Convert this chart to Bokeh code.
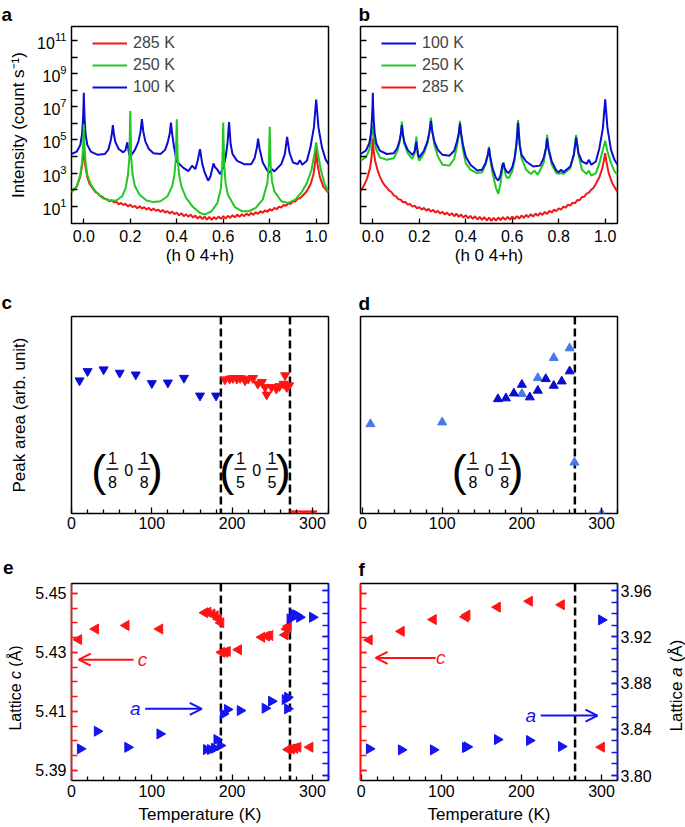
import math
from bokeh.plotting import figure
from bokeh.models import (Range1d, LinearAxis, FixedTicker, PrintfTickFormatter, Label, Span,
                          Arrow, OpenHead, Legend, LegendItem, BoxAnnotation, Spacer)
from bokeh.layouts import row, column
from bokeh.embed import file_html
from bokeh.resources import INLINE

FONT = "Liberation Sans"
RED = "#f01818"
GREEN = "#22c822"
BLUE = "#0c0cd6"
RED2 = "#ff1414"
BLUE2 = "#1414f0"
DBLUE = "#0a0ad0"
LBLUE = "#4a78ec"

# ---------------- data: panel a (log10 intensity) ----------------
a_h_100 = [-0.053, -0.03, -0.015, -0.008, -0.004, -0.0015, 0.0, 0.0015, 0.004, 0.008, 0.015, 0.03, 0.06, 0.09,
           0.105, 0.115, 0.121, 0.125, 0.129, 0.135, 0.15, 0.17, 0.18, 0.185, 0.1875, 0.19, 0.195, 0.2, 0.205,
           0.22, 0.235, 0.244, 0.25, 0.256, 0.265, 0.28, 0.3, 0.33, 0.35, 0.362, 0.37, 0.375, 0.38, 0.388,
           0.4, 0.43, 0.45, 0.466, 0.48, 0.49, 0.5, 0.51, 0.52, 0.535, 0.545, 0.558, 0.565, 0.573, 0.587,
           0.6, 0.61, 0.618, 0.625, 0.632, 0.64, 0.66, 0.69, 0.72, 0.735, 0.745, 0.75, 0.756, 0.77, 0.79,
           0.8, 0.81, 0.82, 0.85, 0.865, 0.875, 0.885, 0.9, 0.92, 0.93, 0.94, 0.96, 0.975, 0.99, 1.0, 1.01,
           1.025, 1.04, 1.053]
a_log_100 = [4.15, 4.3, 4.7, 5.3, 6.1, 7.0, 7.85, 7.0, 6.1, 5.3, 4.7, 4.3, 4.1, 4.15,
             4.4, 4.9, 5.4, 5.9, 5.4, 4.9, 4.45, 4.25, 4.4, 4.75, 4.85, 4.6, 4.15, 3.95, 4.1,
             4.4, 4.9, 5.5, 6.25, 5.5, 4.9, 4.45, 4.2, 4.15, 4.4, 4.9, 5.4, 6.05, 5.4, 4.6,
             3.7, 3.3, 3.12, 3.44, 3.24, 3.74, 4.44, 3.54, 3.04, 2.54, 2.8, 3.58, 3.35, 3.24, 2.94,
             3.34, 3.94, 4.74, 6.08, 4.74, 4.14, 3.74, 3.54, 3.54, 3.9, 4.54, 5.08, 4.5, 3.64, 3.14,
             3.04, 3.24, 3.1, 3.54, 4.14, 5.18, 4.24, 3.64, 3.54, 3.78, 3.5, 3.74, 4.54, 5.74, 7.44, 5.74,
             4.54, 3.84, 3.54]

a_h_250 = [-0.053, -0.03, -0.015, -0.007, -0.003, 0.0, 0.003, 0.007, 0.015, 0.03, 0.05, 0.08, 0.11, 0.14,
           0.165, 0.18, 0.19, 0.196, 0.2, 0.204, 0.21, 0.22, 0.24, 0.27, 0.3, 0.33, 0.36, 0.38, 0.39, 0.396,
           0.4, 0.404, 0.41, 0.42, 0.44, 0.47, 0.5, 0.52, 0.55, 0.575, 0.59, 0.596, 0.6, 0.604, 0.61, 0.62,
           0.65, 0.68, 0.71, 0.74, 0.77, 0.79, 0.796, 0.8, 0.804, 0.81, 0.82, 0.85, 0.88, 0.91, 0.94, 0.96,
           0.98, 0.993, 1.0, 1.007, 1.02, 1.035, 1.053]
a_log_250 = [1.85, 2.2, 2.9, 3.7, 4.6, 5.95, 4.6, 3.7, 2.9, 2.3, 1.9, 1.5, 1.35, 1.35,
             1.6, 2.1, 2.9, 3.9, 6.75, 3.9, 2.9, 2.2, 1.7, 1.35, 1.25, 1.3, 1.6, 2.2, 2.9, 3.9,
             6.25, 3.9, 2.9, 2.2, 1.5, 0.95, 0.6, 0.5, 0.7, 1.2, 2.1, 3.5, 6.05, 3.5, 2.4, 1.7,
             0.95, 0.7, 0.7, 0.9, 1.4, 2.4, 3.5, 5.8, 3.5, 2.5, 1.9, 1.3, 1.2, 1.4, 1.9, 2.4,
             3.2, 4.2, 4.85, 4.2, 3.2, 2.4, 1.85]

a_h_285 = [-0.053, -0.03, -0.015, -0.006, 0.0, 0.006, 0.015, 0.025,
           0.04, 0.05, 0.06, 0.07, 0.08, 0.09, 0.10, 0.11, 0.12, 0.13, 0.14, 0.15, 0.16, 0.17, 0.18, 0.19,
           0.20, 0.21, 0.22, 0.23, 0.24, 0.25, 0.26, 0.27, 0.28, 0.29, 0.30, 0.31, 0.32, 0.33, 0.34, 0.35,
           0.36, 0.37, 0.38, 0.39, 0.40, 0.41, 0.42, 0.43, 0.44, 0.45, 0.46, 0.47, 0.48, 0.49, 0.50, 0.51,
           0.52, 0.53, 0.54, 0.55, 0.56, 0.57, 0.58, 0.59, 0.60, 0.61, 0.62, 0.63, 0.64, 0.65, 0.66, 0.67,
           0.68, 0.69, 0.70, 0.71, 0.72, 0.73, 0.74, 0.75, 0.76, 0.77, 0.78, 0.79, 0.80, 0.81, 0.82, 0.83,
           0.84, 0.85, 0.86, 0.87, 0.88, 0.89, 0.90, 0.91, 0.92, 0.93, 0.94, 0.95, 0.96,
           0.975, 0.988, 0.995, 1.0, 1.005, 1.015, 1.03, 1.053]
a_log_285 = [1.85, 2.2, 2.8, 3.6, 4.5, 3.5, 2.75, 2.35,
             2.05, 1.85, 1.78, 1.62, 1.58, 1.45, 1.42, 1.30, 1.36, 1.22, 1.28, 1.12, 1.20, 1.08, 1.15, 0.98,
             1.10, 0.95, 1.02, 0.88, 1.00, 0.86, 0.95, 0.80, 0.90, 0.74, 0.86, 0.72, 0.80, 0.66, 0.78, 0.62,
             0.70, 0.56, 0.68, 0.52, 0.62, 0.45, 0.58, 0.40, 0.52, 0.36, 0.50, 0.32, 0.44, 0.25, 0.40, 0.22,
             0.38, 0.20, 0.36, 0.18, 0.35, 0.22, 0.38, 0.24, 0.40, 0.26, 0.42, 0.30, 0.46, 0.33, 0.50, 0.36,
             0.52, 0.40, 0.56, 0.44, 0.60, 0.48, 0.64, 0.54, 0.70, 0.60, 0.76, 0.66, 0.82, 0.74, 0.90, 0.82,
             0.98, 0.92, 1.08, 1.02, 1.18, 1.14, 1.30, 1.28, 1.45, 1.48, 1.62, 1.75, 1.92,
             2.3, 2.9, 3.6, 4.4, 3.6, 2.8, 2.2, 1.8]

# ---------------- data: panel b (log10 intensity) ----------------
b_h_100 = [-0.053, -0.03, -0.015, -0.008, -0.004, -0.0015, 0.0, 0.0015, 0.004, 0.008, 0.015, 0.03, 0.06, 0.09,
           0.105, 0.115, 0.121, 0.125, 0.129, 0.135, 0.15, 0.17, 0.18, 0.185, 0.1875, 0.19, 0.195, 0.2, 0.205,
           0.22, 0.235, 0.244, 0.25, 0.256, 0.265, 0.28, 0.3, 0.33, 0.35, 0.362, 0.37, 0.375, 0.38, 0.388,
           0.4, 0.42, 0.45, 0.47, 0.485, 0.495, 0.5, 0.505, 0.515, 0.53, 0.54, 0.55, 0.558, 0.562, 0.568,
           0.575, 0.585, 0.6, 0.61, 0.618, 0.625, 0.632, 0.64, 0.66, 0.69, 0.72, 0.735, 0.745, 0.75, 0.756,
           0.77, 0.79, 0.8, 0.81, 0.82, 0.85, 0.865, 0.875, 0.885, 0.9, 0.92, 0.93, 0.94, 0.96, 0.975, 0.99,
           1.0, 1.01, 1.025, 1.04, 1.053]
b_log_100 = [4.15, 4.35, 4.8, 5.4, 6.2, 7.0, 7.85, 7.0, 6.2, 5.4, 4.8, 4.35, 4.15, 4.2,
             4.5, 4.95, 5.4, 5.9, 5.4, 4.9, 4.4, 4.1, 4.3, 4.7, 4.9, 4.6, 4.1, 3.95, 4.05,
             4.35, 4.9, 5.5, 6.15, 5.5, 4.9, 4.4, 4.1, 4.05, 4.35, 4.9, 5.4, 6.0, 5.4, 4.7,
             4.0, 3.5, 3.15, 3.2, 3.6, 4.1, 4.5, 4.0, 3.3, 2.7, 2.55, 2.9, 3.5, 3.6, 3.3,
             3.1, 3.0, 3.35, 3.9, 4.7, 6.05, 4.7, 4.1, 3.7, 3.4, 3.45, 3.9, 4.5, 5.1, 4.5,
             3.7, 3.15, 3.05, 3.2, 3.05, 3.4, 4.1, 5.15, 4.2, 3.7, 3.55, 3.8, 3.5, 3.7, 4.5, 5.7,
             7.45, 5.7, 4.4, 3.8, 3.5]

b_h_250 = [-0.053, -0.03, -0.015, -0.008, -0.003, 0.0, 0.003, 0.008, 0.015, 0.03, 0.06, 0.09,
           0.105, 0.115, 0.121, 0.125, 0.129, 0.135, 0.15, 0.17, 0.18, 0.185, 0.1875, 0.19, 0.195, 0.2, 0.205,
           0.22, 0.235, 0.244, 0.25, 0.256, 0.265, 0.28, 0.3, 0.33, 0.35, 0.362, 0.37, 0.375, 0.38, 0.388,
           0.4, 0.42, 0.45, 0.47, 0.485, 0.495, 0.5, 0.505, 0.515, 0.53, 0.54, 0.55, 0.558, 0.562, 0.568,
           0.575, 0.585, 0.6, 0.61, 0.618, 0.625, 0.632, 0.64, 0.66, 0.68, 0.695, 0.71, 0.735, 0.745, 0.75,
           0.756, 0.77, 0.79, 0.8, 0.81, 0.82, 0.85, 0.865, 0.875, 0.885, 0.9, 0.92, 0.93, 0.94, 0.96, 0.975,
           0.99, 1.0, 1.01, 1.025, 1.04, 1.053]
b_log_250 = [3.75, 3.95, 4.4, 4.9, 5.5, 5.9, 5.5, 4.9, 4.4, 3.95, 3.8, 3.9,
             4.3, 4.85, 5.4, 6.1, 5.4, 4.8, 4.2, 3.85, 4.2, 4.8, 5.2, 4.6, 3.9, 3.75, 3.85,
             4.2, 4.8, 5.5, 6.35, 5.5, 4.7, 4.0, 3.5, 3.45, 3.85, 4.6, 5.3, 6.15, 5.3, 4.4,
             3.6, 3.2, 3.0, 3.05, 3.5, 4.1, 4.6, 3.9, 3.0, 2.1, 1.75, 2.4, 3.4, 3.65, 3.1,
             2.75, 2.7, 3.1, 3.8, 4.8, 6.2, 4.8, 3.9, 3.2, 2.95, 3.15, 2.9, 3.6, 4.5, 5.3,
             4.4, 3.5, 3.0, 2.95, 3.0, 2.95, 3.3, 4.1, 5.3, 4.1, 3.2, 2.95, 3.15, 2.85, 3.0, 3.6,
             4.4, 4.95, 4.3, 3.6, 3.1, 2.9]

b_h_285 = [-0.053, -0.04, -0.025, -0.012, -0.005, 0.0, 0.004, 0.01, 0.02, 0.03,
           0.04, 0.05, 0.06, 0.07, 0.08, 0.09, 0.10, 0.11, 0.12, 0.13, 0.14, 0.15, 0.16, 0.17, 0.18, 0.19,
           0.20, 0.21, 0.22, 0.23, 0.24, 0.25, 0.26, 0.27, 0.28, 0.29, 0.30, 0.31, 0.32, 0.33, 0.34, 0.35,
           0.36, 0.37, 0.38, 0.39, 0.40, 0.41, 0.42, 0.43, 0.44, 0.45, 0.46, 0.47, 0.48, 0.49, 0.50, 0.51,
           0.52, 0.53, 0.54, 0.55, 0.56, 0.57, 0.58, 0.59, 0.60, 0.61, 0.62, 0.63, 0.64, 0.65, 0.66, 0.67,
           0.68, 0.69, 0.70, 0.71, 0.72, 0.73, 0.74, 0.75, 0.76, 0.77, 0.78, 0.79, 0.80, 0.81, 0.82, 0.83,
           0.84, 0.85, 0.86, 0.87, 0.88, 0.89, 0.90, 0.91, 0.92, 0.93, 0.94, 0.95, 0.96,
           0.975, 0.988, 0.995, 1.0, 1.005, 1.015, 1.03, 1.053]
b_log_285 = [1.9, 2.2, 2.65, 3.3, 4.0, 5.1, 4.3, 3.75, 3.2, 2.8,
             2.50, 2.28, 2.12, 1.95, 1.86, 1.66, 1.60, 1.42, 1.40, 1.24, 1.26, 1.10, 1.14, 0.98, 1.04, 0.88,
             0.95, 0.80, 0.90, 0.74, 0.84, 0.68, 0.78, 0.62, 0.72, 0.56, 0.66, 0.50, 0.62, 0.45, 0.58, 0.40,
             0.55, 0.36, 0.50, 0.32, 0.46, 0.28, 0.42, 0.24, 0.40, 0.20, 0.36, 0.18, 0.34, 0.14, 0.32, 0.12,
             0.30, 0.14, 0.32, 0.16, 0.34, 0.18, 0.36, 0.20, 0.38, 0.22, 0.40, 0.26, 0.44, 0.30, 0.48, 0.34,
             0.52, 0.38, 0.56, 0.42, 0.60, 0.48, 0.66, 0.54, 0.72, 0.62, 0.80, 0.70, 0.88, 0.80, 0.98, 0.92,
             1.10, 1.04, 1.22, 1.18, 1.38, 1.36, 1.56, 1.58, 1.76, 1.82, 2.00, 2.12, 2.36,
             2.75, 3.3, 3.8, 4.2, 3.7, 3.0, 2.4, 1.85]

h_ticks = [0.0, 0.2, 0.4, 0.6, 0.8, 1.0]
log_major = [1e1, 1e3, 1e5, 1e7, 1e9, 1e11]
log_minor = [1e2, 1e4, 1e6, 1e8, 1e10]

# ---------------- data: panel c (peak area, arb. unit) ----------------
c_T_18 = [10, 20, 40, 60, 80, 100, 120, 140, 160, 180]
c_v_18 = [0.675, 0.722, 0.731, 0.714, 0.705, 0.661, 0.664, 0.688, 0.598, 0.598]
c_T_15 = [191, 197, 201, 206, 210, 216, 220, 226, 232, 237, 241, 243, 249, 255, 259, 264, 266, 268, 271,
          278, 289, 300]
c_v_15 = [0.680, 0.684, 0.687, 0.684, 0.687, 0.675, 0.684, 0.687, 0.658, 0.667, 0.641, 0.603, 0.641, 0.633,
          0.646, 0.658, 0.701, 0.641, 0.650, 0.0, 0.0, 0.0]
c_transitions = [186, 272]

# ---------------- data: panel d ----------------
d_T_dark = [170, 180, 190, 200, 210, 220, 230, 240, 250, 260]
d_v_dark = [0.581, 0.585, 0.610, 0.654, 0.590, 0.624, 0.683, 0.649, 0.671, 0.722]
d_T_light = [10, 100, 200, 220, 240, 260, 266, 300]
d_v_light = [0.454, 0.463, 0.607, 0.688, 0.790, 0.839, 0.259, 0.0]
d_transitions = [266.5]

# ---------------- data: panel e (lattice constants, Angstrom) ----------------
e_T_c = [9, 30, 68, 110, 166, 170, 175, 179, 183, 186, 187, 191, 194, 208, 237, 243, 247, 266, 268, 270,
         270, 274, 278, 282, 297]
e_c = [5.4343, 5.4379, 5.4391, 5.4379, 5.4434, 5.4436, 5.4430, 5.4424, 5.4413, 5.4400, 5.4300, 5.4300,
       5.4303, 5.4309, 5.4351, 5.4355, 5.4357, 5.4359, 5.4379, 5.4388, 5.3971, 5.3973, 5.3975, 5.3979,
       5.3979]
e_T_a = [11, 32, 70, 110, 168, 173, 178, 181, 185, 189, 194, 210, 241, 249, 266, 269, 269, 272, 276, 280,
         284, 300]
e_a = [3.8231, 3.8383, 3.8244, 3.8360, 3.8225, 3.8225, 3.8236, 3.8311, 3.8259, 3.8533, 3.8571, 3.8562,
       3.8582, 3.8643, 3.8657, 3.8677, 3.8577, 3.9355, 3.9398, 3.9389, 3.9369, 3.9369]
e_transitions = [186, 272]

# ---------------- data: panel f ----------------
f_T_c = [10, 50, 90, 130, 132, 170, 210, 250, 300]
f_c = [5.4342, 5.4371, 5.4411, 5.4420, 5.4426, 5.4453, 5.4473, 5.4461, 5.3979]
f_T_a = [10, 50, 90, 130, 132, 170, 210, 250, 300]
f_a = [3.8231, 3.8222, 3.8222, 3.8242, 3.8248, 3.8311, 3.8303, 3.8251, 3.9346]
f_transitions = [267]

c_major = [5.39, 5.41, 5.43, 5.45]
c_minor = [round(5.385 + 0.005 * i, 3) for i in range(15)]
a_major = [3.80, 3.84, 3.88, 3.92, 3.96]
a_minor = [round(3.79 + 0.01 * i, 2) for i in range(19)]
T_major = [0, 100, 200, 300]
T_minor = [20, 40, 60, 80, 120, 140, 160, 180, 220, 240, 260, 280, 320]


def style_axis(ax, tick_in=6, minor_in=4, color="black", label_size="16px"):
    ax.axis_line_color = None
    ax.major_tick_in = tick_in
    ax.major_tick_out = 0
    ax.minor_tick_in = minor_in
    ax.minor_tick_out = 0
    ax.major_tick_line_color = color
    ax.minor_tick_line_color = color
    ax.major_tick_line_width = 1.3
    ax.minor_tick_line_width = 1.3
    ax.major_label_text_font = FONT
    ax.major_label_text_font_size = label_size
    ax.major_label_text_color = "black"
    ax.axis_label_text_font = FONT
    ax.axis_label_text_font_size = "17px"
    ax.axis_label_text_font_style = "normal"
    ax.axis_label_text_color = "black"


def set_letter(p, letter, offset, standoff):
    p.title.text = letter
    p.title.align = "left"
    p.title.offset = offset
    p.title.standoff = standoff
    p.title.vertical_align = "bottom"
    p.title.text_font = FONT
    p.title.text_font_size = "19px"
    p.title.text_font_style = "bold"
    p.title.text_color = "black"


def make_fig(letter, letter_offset, letter_standoff, width, height, bl, br, bt, bb, xr, yr, log=False):
    p = figure(width=width, height=height, min_border_left=bl, min_border_right=br,
               min_border_top=bt, min_border_bottom=bb, x_range=xr, y_range=yr,
               y_axis_type="log" if log else "linear", output_backend="svg",
               toolbar_location=None, tools="", title=letter)
    if letter:
        set_letter(p, letter, letter_offset, letter_standoff)
    p.grid.visible = False
    p.outline_line_color = "black"
    p.outline_line_width = 1.5
    p.outline_line_alpha = 1.0
    p.background_fill_color = "white"
    p.border_fill_color = "white"
    for ax in p.axis:
        style_axis(ax)
    return p


def hide_labels(ax):
    ax.formatter = PrintfTickFormatter(format="")
    ax.major_label_standoff = 0


def holder(width, height, border_left):
    # narrow helper canvas (no x axis, bare left axis) whose axis title carries a text piece
    p = figure(width=width, height=height, min_border_left=border_left, min_border_right=0,
               min_border_top=0, min_border_bottom=0, x_range=Range1d(0, 1), y_range=Range1d(0, 1),
               output_backend="svg", toolbar_location=None, tools="", title=None, x_axis_location=None)
    p.grid.visible = False
    p.outline_line_color = None
    p.background_fill_color = "white"
    p.border_fill_color = "white"
    ax = p.yaxis[0]
    ax.ticker = FixedTicker(ticks=[0.5], minor_ticks=[])
    hide_labels(ax)
    ax.major_tick_in = 0
    ax.major_tick_out = 0
    ax.minor_tick_in = 0
    ax.minor_tick_out = 0
    ax.axis_line_color = None
    return p


def text_piece(text, width, height, size, style="normal"):
    p = holder(width, height, width - 1)
    ax = p.yaxis[0]
    ax.axis_label = text
    ax.axis_label_standoff = 0
    ax.axis_label_text_font = FONT
    ax.axis_label_text_font_size = size
    ax.axis_label_text_font_style = style
    ax.axis_label_text_color = "black"
    return p


def letter_piece(letter, width, height, standoff):
    # upright bold panel letter carried by a horizontal axis title
    p = holder(width, height, width - 1)
    ax = p.yaxis[0]
    ax.axis_label = letter
    ax.axis_label_standoff = standoff
    ax.axis_label_text_font = FONT
    ax.axis_label_text_font_size = "19px"
    ax.axis_label_text_font_style = "bold"
    ax.axis_label_text_color = "black"
    try:
        ax.axis_label_orientation = "horizontal"
    except Exception:
        pass
    return p


def lab(p, x, y, text, size="16px", color="black", style="normal", align="center",
        baseline="middle", yr="default"):
    p.add_layout(Label(x=x, y=y, text=text, text_font=FONT, text_font_size=size, text_color=color,
                       text_font_style=style, text_align=align, text_baseline=baseline,
                       y_range_name=yr))


def dashed(p, locs):
    for t in locs:
        p.add_layout(Span(location=t, dimension="height", line_color="black", line_width=2.5,
                          line_dash="8 4", level="underlay"))


def frac_group(p, xs, dx_bar, num, den):
    # xs: left paren, frac1, zero, frac2, right paren (data x); y in peak-area units
    y_num, y_den, y_zero, y_bar, y_par = 0.284, 0.162, 0.223, 0.226, 0.218
    lab(p, xs[0], y_par, "(", size="45px")
    lab(p, xs[4], y_par, ")", size="45px")
    lab(p, xs[2], y_zero, "0", size="16px")
    for xf in (xs[1], xs[3]):
        lab(p, xf, y_num, num, size="16px")
        lab(p, xf, y_den, den, size="16px")
        p.add_layout(BoxAnnotation(left=xf - dx_bar, right=xf + dx_bar, bottom=y_bar - 0.0035,
                                   top=y_bar + 0.0035, fill_color="black", fill_alpha=1.0,
                                   line_color=None))


def legend(p, items, loc):
    leg = Legend(items=[LegendItem(label=l, renderers=[r]) for l, r in items], location=loc,
                 border_line_color=None, background_fill_alpha=0.0, label_text_font=FONT,
                 label_text_font_size="16px", glyph_width=35, glyph_height=20, label_height=20,
                 label_standoff=6, spacing=2, padding=5, margin=0)
    p.add_layout(leg)


def to_I(vals):
    return [10 ** v for v in vals]


def color_axis(ax, color):
    ax.axis_line_color = color
    ax.axis_line_width = 1.5
    ax.major_tick_line_color = color
    ax.minor_tick_line_color = color
    ax.minor_tick_in = 6


# ================= panel a =================
pa = make_fig("a", -70, 3, 345, 270, 71, 17, 25, 47, Range1d(-0.053, 1.053),
              Range1d(10 ** -0.04, 10 ** 11.84), log=True)
ra_285 = pa.line(a_h_285, to_I(a_log_285), line_color=RED, line_width=2)
ra_100 = pa.line(a_h_100, to_I(a_log_100), line_color=BLUE, line_width=2)
ra_250 = pa.line(a_h_250, to_I(a_log_250), line_color=GREEN, line_width=2)
pa.xaxis.ticker = FixedTicker(ticks=h_ticks, minor_ticks=[])
pa.xaxis.formatter = PrintfTickFormatter(format="%.1f")
pa.xaxis.axis_label = "(h 0 4+h)"
pa.xaxis.major_label_standoff = 6
pa.xaxis.axis_label_standoff = 1
pa.xaxis.major_tick_in = 5
pa.yaxis.ticker = FixedTicker(ticks=log_major, minor_ticks=log_minor)
pa.yaxis.minor_tick_in = 6
pa.yaxis.axis_label = "Intensity (count s\u207b\u00b9)"
pa.yaxis.major_label_standoff = 5
pa.yaxis.axis_label_standoff = 6
legend(pa, [("285 K", ra_285), ("250 K", ra_250), ("100 K", ra_100)], (21, 126))

# ================= panel b =================
pb = make_fig("b", -2, 3, 340, 270, 15, 68, 25, 47, Range1d(-0.053, 1.053),
              Range1d(10 ** -0.04, 10 ** 11.84), log=True)
rb_285 = pb.line(b_h_285, to_I(b_log_285), line_color=RED, line_width=2)
rb_250 = pb.line(b_h_250, to_I(b_log_250), line_color=GREEN, line_width=2)
rb_100 = pb.line(b_h_100, to_I(b_log_100), line_color=BLUE, line_width=2)
pb.xaxis.ticker = FixedTicker(ticks=h_ticks, minor_ticks=[])
pb.xaxis.formatter = PrintfTickFormatter(format="%.1f")
pb.xaxis.axis_label = "(h 0 4+h)"
pb.xaxis.major_label_standoff = 6
pb.xaxis.axis_label_standoff = 1
pb.xaxis.major_tick_in = 5
pb.yaxis.ticker = FixedTicker(ticks=log_major, minor_ticks=log_minor)
pb.yaxis.minor_tick_in = 6
hide_labels(pb.yaxis[0])
legend(pb, [("100 K", rb_100), ("250 K", rb_250), ("285 K", rb_285)], (21, 126))

# ================= panel c =================
pc = make_fig("c", -70, 7, 345, 273, 71, 17, 46, 30, Range1d(0, 320), Range1d(0, 1))
dashed(pc, c_transitions)
pc.scatter(c_T_18, c_v_18, marker="inverted_triangle", size=9, fill_color=BLUE, line_color=BLUE)
pc.scatter(c_T_15, c_v_15, marker="inverted_triangle", size=9, fill_color=RED2, line_color=RED2)
pc.xaxis.ticker = FixedTicker(ticks=T_major, minor_ticks=T_minor)
pc.xaxis.major_label_standoff = 3
pc.yaxis.ticker = FixedTicker(ticks=[0.5], minor_ticks=[])
pc.yaxis.major_tick_in = 0
hide_labels(pc.yaxis[0])
pc.yaxis.axis_label = "Peak area (arb. unit)"
pc.yaxis.axis_label_standoff = 43
frac_group(pc, [33.9, 50.9, 71.1, 90.4, 104.4], 7.4, "1", "8")
frac_group(pc, [193.2, 210.3, 230.5, 249.7, 263.7], 7.4, "1", "5")

# ================= panel d =================
pd_ = make_fig("d", -2, 5, 340, 273, 15, 68, 46, 30, Range1d(-2.5, 320), Range1d(0, 1))
dashed(pd_, d_transitions)
pd_.scatter(d_T_light, d_v_light, marker="triangle", size=9, fill_color=LBLUE, line_color=LBLUE)
pd_.scatter(d_T_dark, d_v_dark, marker="triangle", size=9, fill_color=DBLUE, line_color=DBLUE)
pd_.xaxis.ticker = FixedTicker(ticks=T_major, minor_ticks=T_minor)
pd_.xaxis.major_label_standoff = 3
pd_.yaxis.ticker = FixedTicker(ticks=[0.5], minor_ticks=[])
pd_.yaxis.major_tick_in = 0
hide_labels(pd_.yaxis[0])
frac_group(pd_, [121.4, 138.5, 158.9, 178.3, 192.5], 7.5, "1", "8")

# ================= panel e =================
pe = make_fig(None, 0, 0, 322, 284, 48, 17, 40, 47, Range1d(0, 320), Range1d(5.3866, 5.4533))
pe.extra_y_ranges = {"a": Range1d(3.7957, 3.9661)}
ax_ea = LinearAxis(y_range_name="a")
pe.add_layout(ax_ea, "right")
for ax in pe.axis:
    style_axis(ax)
dashed(pe, e_transitions)
pe.scatter(e_T_c, e_c, marker="triangle", angle=math.pi / 2, size=10, fill_color=RED2, line_color=RED2)
pe.scatter(e_T_a, e_a, marker="triangle", angle=-math.pi / 2, size=10, fill_color=BLUE2, line_color=BLUE2,
           y_range_name="a")
pe.xaxis.ticker = FixedTicker(ticks=T_major, minor_ticks=T_minor)
pe.xaxis.major_label_standoff = 4
pe.xaxis.axis_label = "Temperature (K)"
pe.xaxis.axis_label_standoff = 5
ax_ec = pe.yaxis[0]
ax_ec.ticker = FixedTicker(ticks=c_major, minor_ticks=c_minor)
color_axis(ax_ec, RED2)
ax_ec.major_label_standoff = 5
ax_ea.ticker = FixedTicker(ticks=a_major, minor_ticks=a_minor)
color_axis(ax_ea, BLUE2)
hide_labels(ax_ea)
pe.add_layout(Arrow(end=OpenHead(size=12, line_color=RED2, line_width=2), x_start=77.3, y_start=5.4275,
                    x_end=9, y_end=5.4275, line_color=RED2, line_width=2))
pe.add_layout(Arrow(end=OpenHead(size=12, line_color=BLUE2, line_width=2), x_start=91.8, y_start=3.8577,
                    x_end=162.2, y_end=3.8577, line_color=BLUE2, line_width=2, y_range_name="a"))
lab(pe, 88.5, 5.4275, "c", size="19px", color=RED2, style="italic")
lab(pe, 79.4, 3.8577, "a", size="19px", color=BLUE2, style="italic", yr="a")

# panel letter "e" and vertical title "Lattice c (Å)" (c in italics), stacked pieces
e_title_col = column(
    letter_piece("e", 23, 48, 10),
    Spacer(width=23, height=54),
    text_piece("(\u00c5)", 23, 21, "16px"),
    text_piece("c", 23, 17, "16px", style="italic"),
    text_piece("Lattice", 23, 47, "16px"),
    Spacer(width=23, height=97),
)

# ================= panel f =================
pf = make_fig("f", -2, 7, 320, 284, 15, 48, 40, 47, Range1d(-1, 320), Range1d(5.3866, 5.4533))
pf.extra_y_ranges = {"a": Range1d(3.7957, 3.9661)}
ax_fa = LinearAxis(y_range_name="a")
pf.add_layout(ax_fa, "right")
for ax in pf.axis:
    style_axis(ax)
dashed(pf, f_transitions)
pf.scatter(f_T_c, f_c, marker="triangle", angle=math.pi / 2, size=10, fill_color=RED2, line_color=RED2)
pf.scatter(f_T_a, f_a, marker="triangle", angle=-math.pi / 2, size=10, fill_color=BLUE2, line_color=BLUE2,
           y_range_name="a")
pf.xaxis.ticker = FixedTicker(ticks=T_major, minor_ticks=T_minor)
pf.xaxis.major_label_standoff = 4
pf.xaxis.axis_label = "Temperature (K)"
pf.xaxis.axis_label_standoff = 5
ax_fc = pf.yaxis[0]
ax_fc.ticker = FixedTicker(ticks=c_major, minor_ticks=c_minor)
color_axis(ax_fc, RED2)
hide_labels(ax_fc)
ax_fa.ticker = FixedTicker(ticks=a_major, minor_ticks=a_minor)
ax_fa.formatter = PrintfTickFormatter(format="%.2f")
color_axis(ax_fa, BLUE2)
ax_fa.major_label_standoff = 3
pf.add_layout(Arrow(end=OpenHead(size=12, line_color=RED2, line_width=2), x_start=92.9, y_start=5.4281,
                    x_end=17.9, y_end=5.4281, line_color=RED2, line_width=2))
pf.add_layout(Arrow(end=OpenHead(size=12, line_color=BLUE2, line_width=2), x_start=224, y_start=3.8519,
                    x_end=295, y_end=3.8519, line_color=BLUE2, line_width=2, y_range_name="a"))
lab(pf, 99.1, 5.4281, "c", size="19px", color=RED2, style="italic")
lab(pf, 211.6, 3.8519, "a", size="19px", color=BLUE2, style="italic", yr="a")

# vertical title "Lattice a (Å)" on the right of panel f (a in italics)
f_title_col = column(
    Spacer(width=20, height=96),
    text_piece("(\u00c5)", 20, 23, "17px"),
    text_piece("a", 20, 19, "17px", style="italic"),
    text_piece("Lattice", 20, 50, "17px"),
    Spacer(width=20, height=96),
)

layout = column(row(pa, pb), row(pc, pd_), row(e_title_col, pe, pf, f_title_col))
open("out.html", "w").write(file_html(layout, INLINE, "figure"))
